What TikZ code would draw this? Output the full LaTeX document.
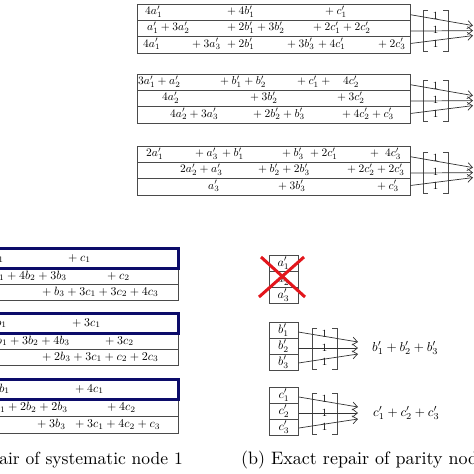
\documentclass[tikz,border=0pt]{standalone}
\usepackage{graphicx}
\usetikzlibrary{arrows.meta,calc}
\definecolor{boxgray}{HTML}{4A4A4A}
\definecolor{navyc}{HTML}{0C0C6A}
\definecolor{crossred}{HTML}{E3161C}
\newcommand\myp{\mathord{+}\mskip\medmuskip}
\newcommand\sA[1]{\scalebox{1.15}{$#1$}}
\newcommand\sB[1]{\scalebox{1.2}{$#1$}}
\newcommand\sC[1]{\scalebox{1.22}{$#1$}}
\newcommand\sS[1]{\scalebox{1.3}{$#1$}}
\newcommand\sO{\scalebox{1.1}{$1$}}
\newcommand\sD[1]{\scalebox{1.75}{#1}}
\newcommand\sE[1]{\scalebox{1.8}{#1}}
\begin{document}
\begin{tikzpicture}[x=1pt,y=-1pt,
  rowbox/.style={draw=boxgray,line width=0.8pt,inner sep=0pt},
  selbox/.style={draw=navyc,line width=3pt,inner sep=0pt},
  cellbox/.style={draw=boxgray,line width=0.8pt,inner sep=0pt,minimum width=29pt,minimum height=16pt},
  tw/.style={anchor=base west,inner sep=0pt},
  te/.style={anchor=base east,inner sep=0pt},
  one/.style={inner sep=0pt},
  brk/.style={draw=boxgray,line width=0.8pt},
  arr/.style={draw=black!80,line width=0.7pt,-{Straight Barb[length=5pt,width=8pt]}},
  crossln/.style={draw=crossred,line width=3pt},
]
\useasboundingbox (0,0) rectangle (474,474);
\fill[white] (0,0) rectangle (474,474);
\clip (0,0) rectangle (474,474);

% ---------- top right group 1 ----------
\node[rowbox,minimum width=273pt,minimum height=16.4pt] (g1r1) at (273.5,12.2) {};
\node[rowbox,minimum width=273pt,minimum height=16.4pt] (g1r2) at (273.5,28.6) {};
\node[rowbox,minimum width=273pt,minimum height=16.4pt] (g1r3) at (273.5,45.0) {};
\node[tw] (t11a) at (145,14.2) {\sA{4a'_1}};
\node[tw] (t11b) at (227,14.2) {\sA{\myp 4b'_1}};
\node[tw] (t11c) at (325,14.2) {\sA{\myp c'_1}};
\node[tw] (t12a) at (147,30.6) {\sA{a'_1 + 3a'_2}};
\node[tw] (t12b) at (227,30.6) {\sA{\myp 2b'_1 + 3b'_2}};
\node[tw] (t12c) at (313,30.6) {\sA{\myp 2c'_1 + 2c'_2}};
\node[tw] (t13a) at (143,47.0) {\sA{4a'_1}};
\node[tw] (t13b) at (192,47.0) {\sA{\myp 3a'_3}};
\node[tw] (t13c) at (227,47.0) {\sA{\myp 2b'_1}};
\node[tw] (t13d) at (287,47.0) {\sA{\myp 3b'_3}};
\node[tw] (t13e) at (318,47.0) {\sA{\myp 4c'_1}};
\node[tw] (t13f) at (378,47.0) {\sA{\myp 2c'_3}};
\draw[brk] (428,10) -- (423,10) -- (423,51) -- (428,51);
\draw[brk] (443,10) -- (448,10) -- (448,51) -- (443,51);
\node[one] (o11) at (435.5,16) {\sO};
\node[one] (o12) at (435.5,30) {\sO};
\node[one] (o13) at (435.5,44) {\sO};
\coordinate (g1e1) at (473,25.6);
\coordinate (g1e2) at (473,30.6);
\coordinate (g1e3) at (473,35.6);
\draw[arr] ($(g1r1.east)+(0,2.5)$) -- (g1e1);
\draw[arr] ($(g1r2.east)+(0,2.5)$) -- (g1e2);
\draw[arr] ($(g1r3.east)+(0,-1.5)$) -- (g1e3);

% ---------- top right group 2 ----------
\node[rowbox,minimum width=273pt,minimum height=16.4pt] (g2r1) at (273.5,82.2) {};
\node[rowbox,minimum width=273pt,minimum height=16.4pt] (g2r2) at (273.5,98.6) {};
\node[rowbox,minimum width=273pt,minimum height=16.4pt] (g2r3) at (273.5,115.0) {};
\node[tw] (t21a) at (138,84.2) {\sA{3a'_1 + a'_2}};
\node[tw] (t21b) at (220,84.2) {\sA{\myp b'_1 + b'_2}};
\node[tw] (t21c) at (297,84.2) {\sA{\myp c'_1 + {}}};
\node[tw] (t21d) at (343,84.2) {\sA{4c'_2}};
\node[tw] (t22a) at (162,100.6) {\sA{4a'_2}};
\node[tw] (t22b) at (250,100.6) {\sA{\myp 3b'_2}};
\node[tw] (t22c) at (337,100.6) {\sA{\myp 3c'_2}};
\node[tw] (t23a) at (170,117.0) {\sA{4a'_2 + 3a'_3}};
\node[tw] (t23b) at (253,117.0) {\sA{\myp 2b'_2 + b'_3}};
\node[tw] (t23c) at (342,117.0) {\sA{\myp 4c'_2 + c'_3}};
\draw[brk] (428,80) -- (423,80) -- (423,121) -- (428,121);
\draw[brk] (443,80) -- (448,80) -- (448,121) -- (443,121);
\node[one] (o21) at (435.5,86) {\sO};
\node[one] (o22) at (435.5,100) {\sO};
\node[one] (o23) at (435.5,114) {\sO};
\coordinate (g2e1) at (473,95.6);
\coordinate (g2e2) at (473,100.6);
\coordinate (g2e3) at (473,105.6);
\draw[arr] ($(g2r1.east)+(0,2.5)$) -- (g2e1);
\draw[arr] ($(g2r2.east)+(0,2.5)$) -- (g2e2);
\draw[arr] ($(g2r3.east)+(0,-1.5)$) -- (g2e3);

% ---------- top right group 3 ----------
\node[rowbox,minimum width=273pt,minimum height=16.4pt] (g3r1) at (273.5,154.2) {};
\node[rowbox,minimum width=273pt,minimum height=16.4pt] (g3r2) at (273.5,170.6) {};
\node[rowbox,minimum width=273pt,minimum height=16.4pt] (g3r3) at (273.5,187.0) {};
\node[tw] (t31a) at (146,156.2) {\sA{2a'_1}};
\node[tw] (t31b) at (195,156.2) {\sA{\myp a'_3}};
\node[tw] (t31c) at (222,156.2) {\sA{\myp b'_1}};
\node[tw] (t31d) at (282,156.2) {\sA{\myp b'_3}};
\node[tw] (t31e) at (310,156.2) {\sA{\myp 2c'_1}};
\node[tw] (t31f) at (370,156.2) {\sA{+}};
\node[tw] (t31g) at (385,156.2) {\sA{4c'_3}};
\node[tw] (t32a) at (180,172.6) {\sA{2a'_2 + a'_3}};
\node[tw] (t32b) at (258,172.6) {\sA{\myp b'_2 + 2b'_3}};
\node[tw] (t32c) at (347,172.6) {\sA{\myp 2c'_2 + 2c'_3}};
\node[tw] (t33a) at (208,189.0) {\sA{a'_3}};
\node[tw] (t33b) at (278,189.0) {\sA{\myp 3b'_3}};
\node[tw] (t33c) at (377,189.0) {\sA{\myp c'_3}};
\draw[brk] (428,152) -- (423,152) -- (423,193) -- (428,193);
\draw[brk] (443,152) -- (448,152) -- (448,193) -- (443,193);
\node[one] (o31) at (435.5,158) {\sO};
\node[one] (o32) at (435.5,172) {\sO};
\node[one] (o33) at (435.5,186) {\sO};
\coordinate (g3e1) at (473,167.6);
\coordinate (g3e2) at (473,172.6);
\coordinate (g3e3) at (473,177.6);
\draw[arr] ($(g3r1.east)+(0,2.5)$) -- (g3e1);
\draw[arr] ($(g3r2.east)+(0,2.5)$) -- (g3e2);
\draw[arr] ($(g3r3.east)+(0,-1.5)$) -- (g3e3);

% ---------- left groups (systematic) ----------
\node[rowbox,minimum width=198pt,minimum height=16pt] (ar2) at (79,276) {};
\node[rowbox,minimum width=198pt,minimum height=16pt] (ar3) at (79,292) {};
\node[selbox,minimum width=198pt,minimum height=20pt] (ar1) at (79,258) {};
\node[te] (sa1a) at (4,261) {\sB{b_1}};
\node[tw] (sa1b) at (68,261) {\sB{\myp c_1}};
\node[te] (sa2a) at (67,279) {\sB{b_1 + 4b_2 + 3b_3}};
\node[tw] (sa2b) at (107,279) {\sB{\myp c_2}};
\node[tw] (sa3a) at (42,295) {\sB{\myp b_3 + 3c_1 + 3c_2 + 4c_3}};

\node[rowbox,minimum width=198pt,minimum height=16pt] (br2) at (79,341) {};
\node[rowbox,minimum width=198pt,minimum height=16pt] (br3) at (79,357) {};
\node[selbox,minimum width=198pt,minimum height=20pt] (br1) at (79,323) {};
\node[te] (sb1a) at (7,326) {\sB{b_1}};
\node[tw] (sb1b) at (72,326) {\sB{\myp 3c_1}};
\node[te] (sb2a) at (70,344) {\sB{b_1 + 3b_2 + 4b_3}};
\node[tw] (sb2b) at (105,344) {\sB{\myp 3c_2}};
\node[tw] (sb3a) at (42,360) {\sB{\myp 2b_3 + 3c_1 + c_2 + 2c_3}};

\node[rowbox,minimum width=198pt,minimum height=17pt] (cr2) at (79,407.5) {};
\node[rowbox,minimum width=198pt,minimum height=17pt] (cr3) at (79,424.5) {};
\node[selbox,minimum width=198pt,minimum height=20pt] (cr1) at (79,389) {};
\node[te] (sc1a) at (10,392) {\sB{b_1}};
\node[tw] (sc1b) at (75,392) {\sB{\myp 4c_1}};
\node[te] (sc2a) at (68,410.5) {\sB{b_1 + 2b_2 + 2b_3}};
\node[tw] (sc2b) at (107,410.5) {\sB{\myp 4c_2}};
\node[tw] (sc3a) at (37,427.5) {\sB{\myp 3b_3}};
\node[tw] (sc3b) at (75,427.5) {\sB{\myp 3c_1 + 4c_2 + c_3}};

% ---------- parity repair ----------
\node[cellbox] (pa1) at (283.5,263) {\sC{a'_1}};
\node[cellbox] (pa2) at (283.5,279) {\sC{a'_2}};
\node[cellbox] (pa3) at (283.5,295) {\sC{a'_3}};
\draw[crossln] (261,257) -- (305,297);
\draw[crossln] (304,257) -- (259,297);

\node[cellbox] (pb1) at (283.5,330) {\sC{b'_1}};
\node[cellbox] (pb2) at (283.5,346) {\sC{b'_2}};
\node[cellbox] (pb3) at (283.5,362) {\sC{b'_3}};
\draw[brk] (317,328) -- (312,328) -- (312,369) -- (317,369);
\draw[brk] (332,328) -- (337,328) -- (337,369) -- (332,369);
\node[one] (ob1) at (324.5,334) {\sO};
\node[one] (ob2) at (324.5,348) {\sO};
\node[one] (ob3) at (324.5,362) {\sO};
\coordinate (be1) at (358,342);
\coordinate (be2) at (358,348);
\coordinate (be3) at (358,354);
\draw[arr] ($(pb1.east)+(0,2)$) -- (be1);
\draw[arr] ($(pb2.east)+(0,2)$) -- (be2);
\draw[arr] ($(pb3.east)+(0,1)$) -- (be3);
\node[tw] (bsum) at (372,351.5) {\sS{b'_1 + b'_2 + b'_3}};

\node[cellbox] (pc1) at (284,395) {\sC{c'_1}};
\node[cellbox] (pc2) at (284,411) {\sC{c'_2}};
\node[cellbox] (pc3) at (284,427) {\sC{c'_3}};
\draw[brk] (317,393) -- (312,393) -- (312,434) -- (317,434);
\draw[brk] (332,393) -- (337,393) -- (337,434) -- (332,434);
\node[one] (oc1) at (324.5,399) {\sO};
\node[one] (oc2) at (324.5,413) {\sO};
\node[one] (oc3) at (324.5,427) {\sO};
\coordinate (ce1) at (358,407);
\coordinate (ce2) at (358,413);
\coordinate (ce3) at (358,419);
\draw[arr] ($(pc1.east)+(0,2)$) -- (ce1);
\draw[arr] ($(pc2.east)+(0,2)$) -- (ce2);
\draw[arr] ($(pc3.east)+(0,1)$) -- (ce3);
\node[tw] (csum) at (373,416.5) {\sS{c'_1 + c'_2 + c'_3}};

% ---------- captions ----------
\node[te] (capa) at (183,464) {\sD{(a) Exact repair of systematic node 1}};
\node[tw] (capb) at (241,464) {\sE{(b) Exact repair of parity node 1}};
\end{tikzpicture}
\end{document}
